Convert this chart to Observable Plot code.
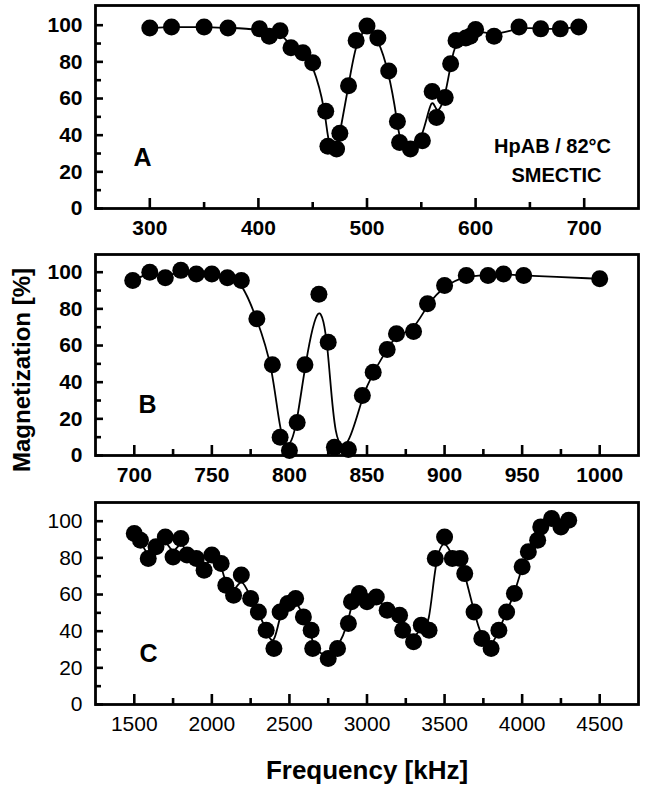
<!DOCTYPE html>
<html>
<head>
<meta charset="utf-8">
<script src="https://cdn.jsdelivr.net/npm/d3@7"></script>
<script src="https://cdn.jsdelivr.net/npm/@observablehq/plot@0.6"></script>
<style>
  html, body { margin: 0; padding: 0; background: #fff; }
  #wrap { width: 646px; height: 785px; overflow: hidden; }
  #wrap svg { display: block; }
</style>
</head>
<body>
<div id="wrap"></div>
<script>
// ---- Panel A: HpAB / 82°C smectic, 250–750 kHz ----
const freqA = [300, 320, 350, 372, 401, 410, 420, 430, 441, 450, 462, 464, 472, 475, 483, 490, 500, 510, 520, 528, 530, 540, 551, 560, 564, 572, 577, 582, 591, 595, 600, 617, 640, 660, 678, 695];
const magA  = [98.5, 99, 99, 98.5, 98, 94, 97, 87.7, 85, 79.5, 53, 34, 32.4, 41, 67, 91.7, 99.5, 93, 75, 47.5, 36, 32.4, 37, 63.8, 49.6, 60.5, 79, 91.7, 93, 94, 97.7, 94, 99, 98, 98, 99];

// ---- Panel B: 675–1025 kHz ----
const freqB = [699, 710, 720, 730, 740, 750, 760, 769, 779, 789, 794, 800, 805, 810, 819, 825, 829, 838, 847, 854, 863, 869, 880, 889, 900, 914, 928, 938, 951, 1000];
const magB  = [95.5, 100, 97, 101, 99, 99, 97, 95.5, 74.6, 49.5, 10, 2.7, 18, 49.5, 88, 61.8, 4.5, 3.3, 32.7, 45.4, 57.8, 66.4, 67.6, 82.8, 92.7, 98.2, 98.2, 99, 98.2, 96.4];

// ---- Panel C: 1250–4750 kHz ----
const freqC = [1500, 1540, 1590, 1640, 1700, 1750, 1800, 1840, 1900, 1950, 2000, 2060, 2090, 2140, 2190, 2250, 2300, 2350, 2400, 2440, 2490, 2540, 2590, 2640, 2650, 2750, 2810, 2880, 2900, 2950, 3000, 3060, 3130, 3210, 3230, 3300, 3350, 3400, 3440, 3500, 3550, 3600, 3630, 3690, 3740, 3800, 3850, 3900, 3950, 4000, 4040, 4100, 4120, 4190, 4250, 4300];
const magC  = [93.3, 89.6, 79.6, 86, 91.4, 80.5, 90.5, 81.5, 79.6, 73.3, 81.5, 76.9, 65.1, 59.6, 70.6, 57.8, 50.5, 40.5, 30.5, 50.5, 55.1, 57.8, 47.8, 40.5, 30.5, 25.1, 30.5, 44.2, 56, 60.5, 56, 58.7, 51.4, 48.7, 40.5, 34.2, 43.3, 40.5, 79.6, 91.4, 79.6, 79.6, 71.4, 50.5, 36, 30.5, 40.5, 50.5, 60.5, 75.1, 83.3, 89.6, 96.9, 101.5, 96.9, 100.5];

// ---- Tick values ----
const yMajor = [0, 20, 40, 60, 80, 100];
const yMinor = [10, 30, 50, 70, 90];
const xMajorA = [300, 400, 500, 600, 700];
const xMinorA = [350, 450, 550, 650];
const xMajorB = [700, 750, 800, 850, 900, 950, 1000];
const xMinorB = [725, 775, 825, 875, 925, 975];
const xMajorC = [1500, 2000, 2500, 3000, 3500, 4000, 4500];
const xMinorC = [1750, 2250, 2750, 3250, 3750, 4250];

const domainA = [250, 750];
const domainB = [675, 1025];
const domainC = [1250, 4750];

const FONT = "'Liberation Sans', Arial, Helvetica, sans-serif";
const W = 646, ML = 95, MR = 8;

function panel(o) {
  const data = o.freq.map((f, i) => ({f, m: o.mag[i]}));
  const innerW = W - ML - MR;
  const innerH = o.height - o.mt - o.mb;
  const yMax = innerH / 1.833;
  const fw = o.bold ? "bold" : "normal";
  const marks = [
    Plot.axisX({ticks: o.major, tickSize: 0, tickPadding: 12, tickFormat: d3.format("d"), label: null, fontSize: 21, fontWeight: fw}),
    Plot.axisY({ticks: yMajor, tickSize: 0, tickPadding: 13, tickFormat: d3.format("d"), label: null, fontSize: 21, fontWeight: fw}),
    Plot.tickX(o.major, {x: d => d, insetTop: innerH - 10, strokeWidth: 2.6}),
    Plot.tickX(o.minor, {x: d => d, insetTop: innerH - 6, strokeWidth: 2.6}),
    Plot.tickY(yMajor, {y: d => d, insetRight: innerW - 8, strokeWidth: 2.6}),
    Plot.tickY(yMinor, {y: d => d, insetRight: innerW - 6, strokeWidth: 2.6}),
    Plot.line(data, {x: "f", y: "m", curve: "basis", strokeWidth: 1.8, stroke: "black"}),
    Plot.dot(data, {x: "f", y: "m", r: 8.5, fill: "black", stroke: "none"}),
    Plot.frame({strokeWidth: 2.8, stroke: "black"}),
    Plot.text([o.letter], {frameAnchor: "bottom-left", dx: o.letterDx, dy: -43, fontSize: 25, fontWeight: "bold", textAnchor: "start", lineAnchor: "bottom", fill: "black"})
  ];
  if (o.extra) marks.push(...o.extra);
  return Plot.plot({
    width: W,
    height: o.height,
    marginLeft: ML,
    marginRight: MR,
    marginTop: o.mt,
    marginBottom: o.mb,
    style: {fontFamily: FONT, color: "black", background: "white", overflow: "visible"},
    x: {domain: o.domain},
    y: {domain: [0, yMax]},
    marks
  });
}

const wrap = document.getElementById("wrap");

wrap.appendChild(panel({
  freq: freqA, mag: magA, domain: domainA, major: xMajorA, minor: xMinorA,
  letter: "A", letterDx: 38, bold: true, height: 249, mt: 5, mb: 41,
  extra: [
    Plot.text(["HpAB / 82°C"], {frameAnchor: "top-right", dx: -86, dy: 147, textAnchor: "middle", lineAnchor: "bottom", fontSize: 20, fontWeight: "bold", fill: "black"}),
    Plot.text(["SMECTIC"], {frameAnchor: "top-right", dx: -82, dy: 176, textAnchor: "middle", lineAnchor: "bottom", fontSize: 20, fontWeight: "bold", fill: "black"})
  ]
}));

wrap.appendChild(panel({
  freq: freqB, mag: magB, domain: domainB, major: xMajorB, minor: xMinorB,
  letter: "B", letterDx: 43, bold: true, height: 247, mt: 5, mb: 41,
  extra: [
    Plot.text(["Magnetization [%]"], {frameAnchor: "left", dx: -73, dy: 15, rotate: -90, textAnchor: "middle", lineAnchor: "middle", fontSize: 24, fontWeight: "bold", fill: "black"})
  ]
}));

wrap.appendChild(panel({
  freq: freqC, mag: magC, domain: domainC, major: xMajorC, minor: xMinorC,
  letter: "C", letterDx: 44, bold: false, height: 289, mt: 6, mb: 81,
  extra: [
    Plot.text(["Frequency [kHz]"], {frameAnchor: "bottom", dy: 66, textAnchor: "middle", lineAnchor: "middle", fontSize: 26, fontWeight: "bold", fill: "black"})
  ]
}));
</script>
</body>
</html>
